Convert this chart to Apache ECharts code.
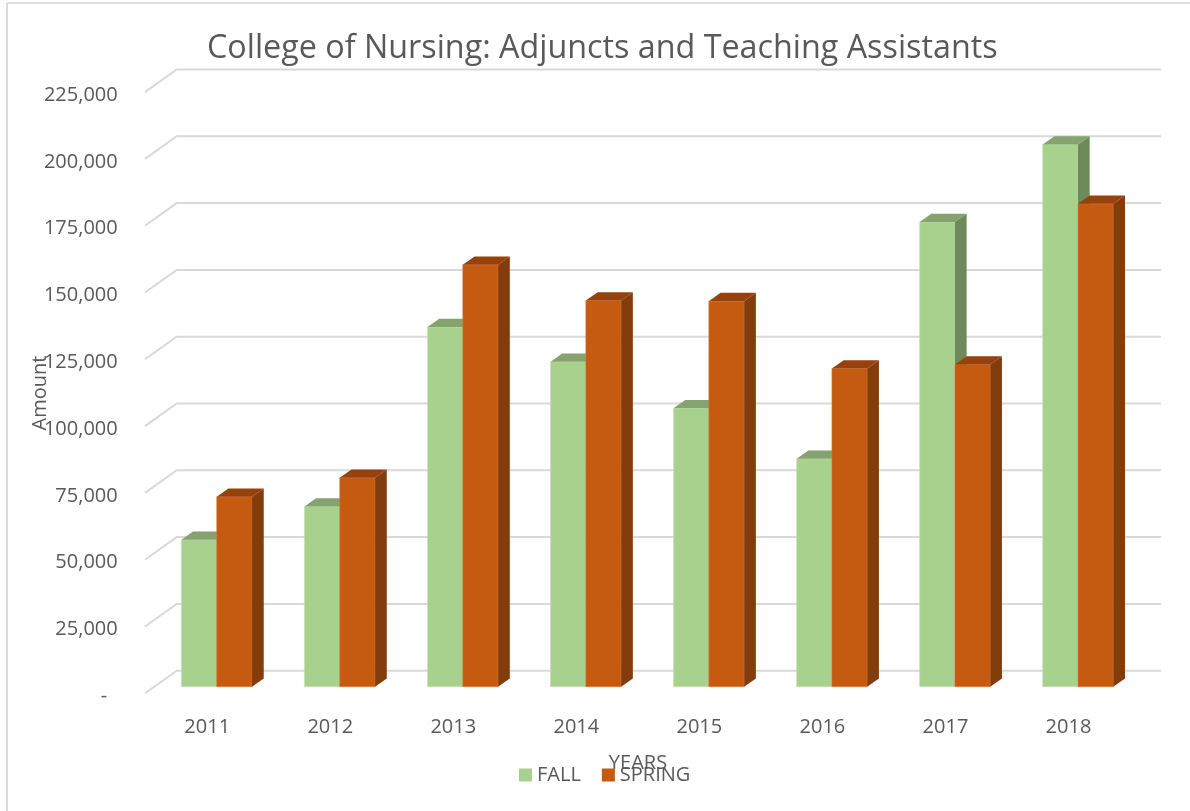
<!DOCTYPE html>
<html>
<head>
<meta charset="utf-8">
<script src="https://cdn.jsdelivr.net/npm/echarts@6/dist/echarts.min.js"></script>
<style>
html,body{margin:0;padding:0;background:#fff;}
#chart{width:1190px;height:811px;}
</style>
</head>
<body>
<div id="chart"></div>
<script>
// ---- data ----
const categories = ['2011', '2012', '2013', '2014', '2015', '2016', '2017', '2018'];
const fallValues = [55000, 67400, 134600, 121600, 104200, 85300, 173900, 202900];
const springValues = [71100, 78200, 157900, 144500, 144300, 119100, 120600, 180700];
const yTicks = [0, 25000, 50000, 75000, 100000, 125000, 150000, 175000, 200000, 225000];
const seriesNames = ['FALL', 'SPRING'];
const titleText = 'College of Nursing: Adjuncts and Teaching Assistants';
const yName = 'Amount';
const xName = 'YEARS';

// ---- styles ----
const FONT = '"Open Sans", sans-serif';
const TXT = '#595959';
const DEPTH_X = 11.7, DEPTH_Y = 8.3;
const palettes = [
  { front: '#A9D18E', top: '#84A36E', side: '#6E8A5A', edge: '#C3E0AE' },
  { front: '#C55A11', top: '#97420D', side: '#833C0B', edge: '#E07A35' }
];

function barRenderer(k) {
  return function (params, api) {
    const idx = api.value(0);
    const v = api.value(1);
    const base = api.coord([idx, 0]);
    const top = api.coord([idx, v]);
    const band = api.size([1, 0])[0];
    const w = band * 0.287;
    const x0 = k === 0 ? base[0] - w : base[0];
    const yb = base[1], yt = top[1];
    const p = palettes[k];
    return {
      type: 'group',
      children: [
        { type: 'rect', shape: { x: x0, y: yt, width: w, height: yb - yt },
          style: { fill: p.front, stroke: p.edge, lineWidth: 0.6 } },
        { type: 'polygon', shape: { points: [[x0, yt], [x0 + DEPTH_X, yt - DEPTH_Y], [x0 + w + DEPTH_X, yt - DEPTH_Y], [x0 + w, yt]] },
          style: { fill: p.top } },
        { type: 'polygon', shape: { points: [[x0 + w, yt], [x0 + w + DEPTH_X, yt - DEPTH_Y], [x0 + w + DEPTH_X, yb - DEPTH_Y], [x0 + w, yb]] },
          style: { fill: p.side } }
      ]
    };
  };
}

function gridRenderer(params, api) {
  const v = api.value(1);
  const y = api.coord([0, v])[1];
  const cs = params.coordSys;
  return {
    type: 'polyline',
    shape: { points: [[cs.x - 10.2, y + 6.6], [cs.x + 21.5, y - 16], [cs.x + cs.width + 21.5, y - 16]] },
    style: { stroke: '#D9D9D9', lineWidth: 2, fill: null }
  };
}

const chart = echarts.init(document.getElementById('chart'));
chart.setOption({
  animation: false,
  backgroundColor: '#ffffff',
  title: {
    text: titleText,
    left: 202,
    top: 28,
    padding: 5,
    textStyle: { fontFamily: FONT, fontSize: 32.3, fontWeight: 'normal', color: TXT }
  },
  legend: {
    data: seriesNames,
    left: 514,
    top: 760,
    itemWidth: 13,
    itemHeight: 13,
    itemGap: 21,
    icon: 'rect',
    textStyle: { fontFamily: FONT, fontSize: 20, color: TXT }
  },
  grid: { left: 155.2, right: 50.5, top: 85.5, bottom: 124.3, containLabel: false },
  xAxis: {
    type: 'category',
    data: categories,
    axisLine: { show: false },
    axisTick: { show: false },
    splitLine: { show: false },
    axisLabel: { fontFamily: FONT, fontSize: 20, color: TXT, margin: 31, padding: [0, 19, 0, 0] }
  },
  yAxis: {
    type: 'value',
    min: 0,
    max: 225000,
    interval: 25000,
    axisLine: { show: false },
    axisTick: { show: false },
    splitLine: { show: false },
    axisLabel: {
      fontFamily: FONT, fontSize: 20, color: TXT, margin: 37.5,
      verticalAlign: 'top', lineHeight: 19,
      formatter: function (v) { return v === 0 ? '-  ' : v.toLocaleString('en-US'); }
    }
  },
  graphic: [
    { type: 'line', shape: { x1: 7, y1: 3, x2: 1190, y2: 3 }, style: { stroke: '#CFCFCF', lineWidth: 1.5 } },
    { type: 'line', shape: { x1: 7, y1: 3, x2: 7, y2: 811 }, style: { stroke: '#CFCFCF', lineWidth: 1.5 } },
    { type: 'text', x: 40, y: 393, rotation: Math.PI / 2,
      style: { text: yName, fontFamily: FONT, fontSize: 20, fill: TXT, align: 'center', verticalAlign: 'middle' } },
    { type: 'text', x: 638, y: 763,
      style: { text: xName, fontFamily: FONT, fontSize: 20, fill: TXT, align: 'center', verticalAlign: 'middle' } }
  ],
  series: [
    { type: 'custom', name: '_grid', silent: true, z: 1, renderItem: gridRenderer,
      data: yTicks.map(v => [0, v]), encode: { x: 0, y: 1 } },
    { type: 'custom', name: seriesNames[0], z: 2, renderItem: barRenderer(0),
      itemStyle: { color: palettes[0].front },
      data: fallValues.map((v, i) => [i, v]), encode: { x: 0, y: 1 } },
    { type: 'custom', name: seriesNames[1], z: 3, renderItem: barRenderer(1),
      itemStyle: { color: palettes[1].front },
      data: springValues.map((v, i) => [i, v]), encode: { x: 0, y: 1 } }
  ]
});
</script>
</body>
</html>
